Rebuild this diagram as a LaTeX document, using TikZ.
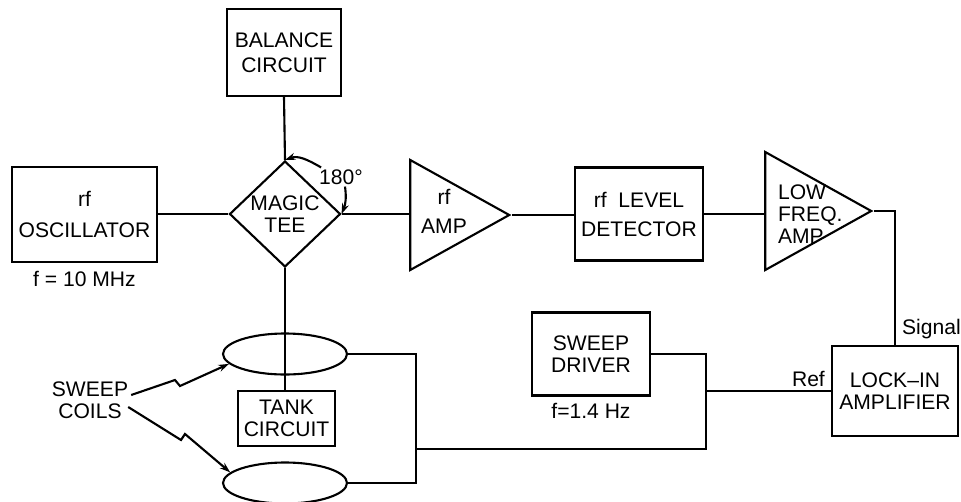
\documentclass[tikz,border=0pt]{standalone}
\usepackage{fontspec}
\setmainfont{Liberation Sans}
\usetikzlibrary{positioning, shapes.geometric, arrows.meta}
\tikzset{
    >={Stealth[length=6pt, width=4pt]}, % filled arrowheads
    every node/.style={font=\fontsize{12}{12.5}\selectfont},
    block/.style={draw, line width=1.2pt, align=center, inner sep=0pt}, % boxed units
    amp/.style={draw, line width=1.2pt, isosceles triangle, isosceles triangle stretches,
        shape border rotate=0, inner sep=0pt}, % amplifiers
    coil/.style={draw, line width=1.2pt, ellipse, inner sep=0pt,
        minimum width=2.48cm, minimum height=0.82cm}, % sweep coils
    lbl/.style={inner sep=1pt, align=center},
    wire/.style={line width=1.2pt},
}

\begin{document}
\begin{tikzpicture}[x=0.02cm, y=0.02cm]
    \useasboundingbox (0,0) rectangle (961,-501);

    % Units
    \node[block, minimum width=2.9cm, minimum height=1.9cm] (osc) at (84.5,-214.5) {rf\\[5pt]OSCILLATOR};
    \node[lbl] (oscf) [below=0.12cm of osc] {f = 10 MHz};
    \node[block, minimum width=2.28cm, minimum height=1.74cm] (bal) at (284,-52.5) {BALANCE\\[2pt]CIRCUIT};
    \node[block, diamond, aspect=1, minimum width=2.22cm, minimum height=2.12cm] (tee) at (285,-214) {MAGIC\\TEE};
    \node[lbl] (deg) at (341,-177) {180°};
    \node[amp, anchor=apex, minimum width=2.2cm, minimum height=1.98cm] (rfamp) at (512,-215) {};
    \node[lbl] (rfamptxt) at (444,-211) {rf\\[4pt]AMP};
    \node[block, minimum width=2.56cm, minimum height=1.86cm] (det) at (639,-214) {rf\ \ LEVEL\\[4pt]DETECTOR};
    \node[amp, anchor=apex, minimum width=2.36cm, minimum height=2.12cm] (lfamp) at (874,-211) {};
    \node[lbl, align=left, anchor=west] (lfamptxt) at (776,-214) {LOW\\FREQ.\\AMP};
    \node[block, minimum width=2.52cm, minimum height=1.8cm] (lock) at (895,-391) {LOCK--IN\\AMPLIFIER};
    \node[lbl, anchor=base west] (sig) at (900,-334) {Signal};
    \node[lbl, anchor=south east] (ref) at ([xshift=-0.08cm, yshift=0.04cm]lock.west) {Ref};
    \node[block, minimum width=2.36cm, minimum height=1.66cm] (drv) at (591,-354) {SWEEP\\DRIVER};
    \node[lbl] (drvf) [below=0.1cm of drv] {f=1.4 Hz};
    \node[coil] (el1) at (285,-354) {};
    \node[coil] (el2) at (285,-483) {};
    \node[block, minimum width=1.94cm, minimum height=1.1cm] (tank) at (286.5,-418.5) {TANK\\CIRCUIT};
    \node[lbl] (coils) at (90,-400) {SWEEP\\COILS};

    \coordinate (jr) at (706,-449);
    \coordinate (jl) at (416,-449);

    % Signal path
    \draw[wire] (tee.west -| osc.east) -- (tee.west);
    \draw[wire] (bal.south) -- (tee.north);
    \draw[wire] (tee.east) -- (tee.east -| rfamp.west);
    \draw[wire] (rfamp.apex) -- (rfamp.apex -| det.west);
    \draw[wire] (det.east) -- (det.east -| lfamp.west);
    \draw[wire] (lfamp.apex) -| (lock.north);
    \draw[wire] (tee.south) -- (tee.south |- tank.north);

    % Sweep loop
    \draw[wire] (drv.east) -| (jr) -- (jl);
    \draw[wire] (lock.west) -- (lock.west -| jr);
    \draw[wire] (el1.east) -| (jl);
    \draw[wire] (el2.east) -| (jl);

    % 180 degree arrows
    \draw[wire, ->] ([xshift=0.08cm]deg.north west) to[out=150, in=20] (tee.north);
    \draw[wire, ->] ([xshift=0.08cm]deg.south) to[bend left=15] (tee.east);

    % Pointers to the coils
    \draw[wire, ->] ([shift={(1,5)}]coils.east) -- (175,-380) -- (180,-386) -- (el1.190);
    \draw[wire, ->] ([shift={(-2,-7)}]coils.east) -- (181,-440) -- (185,-434) -- (el2.169);
\end{tikzpicture}
\end{document}
